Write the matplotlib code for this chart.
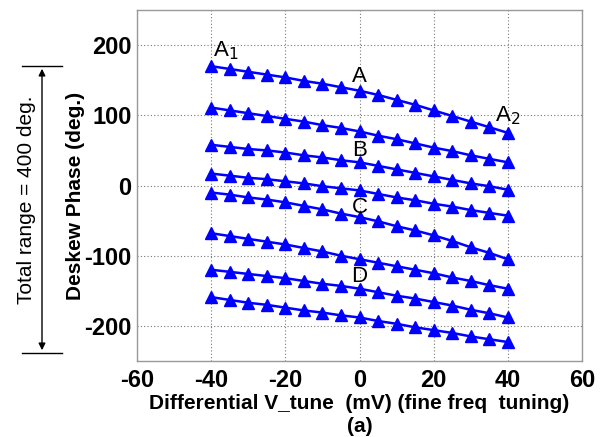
import numpy as np
import matplotlib.pyplot as plt

plt.rcParams['font.family'] = 'Liberation Sans'
plt.rcParams['axes.unicode_minus'] = False

# differential tuning voltage (mV)
vtune = np.arange(-40, 41, 5)

# deskew phase (deg.) for each coarse setting, top to bottom
phase1 = [170, 166, 162, 158, 154, 149, 145, 140, 135, 129, 122, 115, 107, 99, 91, 83, 75]
phase2 = [111, 107, 103, 99, 95, 91, 86, 82, 77, 71, 66, 60, 54, 49, 43, 38, 33]
phase3 = [58, 55, 52, 50, 47, 43, 40, 36, 33, 28, 23, 18, 13, 8, 3, -1, -6]
phase4 = [17, 14, 11, 9, 6, 3, -1, -4, -7, -12, -17, -21, -26, -30, -35, -39, -43]
phase5 = [-10, -13, -17, -20, -24, -29, -34, -40, -45, -51, -58, -64, -71, -79, -88, -96, -105]
phase6 = [-68, -72, -76, -80, -84, -89, -94, -100, -105, -110, -115, -120, -125, -131, -136, -142, -147]
phase7 = [-120, -123, -126, -129, -132, -136, -140, -143, -147, -152, -157, -161, -166, -171, -177, -182, -188]
phase8 = [-159, -163, -167, -170, -174, -178, -181, -185, -188, -193, -197, -202, -206, -210, -215, -219, -223]
curves = [phase1, phase2, phase3, phase4, phase5, phase6, phase7, phase8]

fig = plt.figure(figsize=(6.02, 4.37), dpi=100)
ax = fig.add_axes([0.2276, 0.1739, 0.7392, 0.8032])

for ph in curves:
    ax.plot(vtune, ph, color='#0000ff', lw=1.8, marker='^', ms=8.5,
            mfc='#0000ff', mec='#0000ff')

# curve labels
lab_kw = dict(fontsize=16, ha='center', va='center')
ax.text(-36, 192, r'A$_1$', **lab_kw)
ax.text(0, 155, 'A', **lab_kw)
ax.text(40, 100, r'A$_2$', **lab_kw)
ax.text(0, 50, 'B', **lab_kw)
ax.text(0, -31, 'C', **lab_kw)
ax.text(0, -129, 'D', **lab_kw)

ax.set_xlim(-60, 60)
ax.set_ylim(-250, 250)
ax.set_xticks([-60, -40, -20, 0, 20, 40, 60])
ax.set_yticks([-200, -100, 0, 100, 200])
ax.grid(True, ls=(0, (1, 2)), color='#777777', lw=0.8)
ax.tick_params(length=0, labelsize=17)
ax.tick_params(axis='y', pad=4)
ax.tick_params(axis='x', pad=6)
for lab in ax.get_xticklabels() + ax.get_yticklabels():
    lab.set_fontweight('bold')
for s in ax.spines.values():
    s.set_color('#999999')
    s.set_linewidth(1.0)

ax.set_xlabel('Differential V_tune  (mV) (fine freq  tuning)', fontsize=15,
              fontweight='bold', labelpad=1)
ax.set_ylabel('Deskew Phase (deg.)', fontsize=15, fontweight='bold', va='center')
ax.yaxis.set_label_coords(-0.139, 0.47)
fig.text(360/602, 1-426/437, '(a)', fontsize=15, fontweight='bold',
         ha='center', va='center')

# total range marker on the left
y_top = 1 - 66/437
y_bot = 1 - 353/437
x_arr = 42/602
fig.add_artist(plt.Line2D([22/602, 62/602], [y_top, y_top], color='black', lw=1))
fig.add_artist(plt.Line2D([22/602, 62/602], [y_bot, y_bot], color='black', lw=1))
ax.annotate('', xy=(x_arr, y_top), xytext=(x_arr, y_bot), xycoords='figure fraction',
            textcoords='figure fraction',
            arrowprops=dict(arrowstyle='<|-|>', color='black', lw=1, mutation_scale=10))
fig.text(27/602, 1-200/437, 'Total range = 400 deg.', fontsize=15, rotation=90,
         ha='center', va='center')

plt.savefig('out.png')
plt.close()
